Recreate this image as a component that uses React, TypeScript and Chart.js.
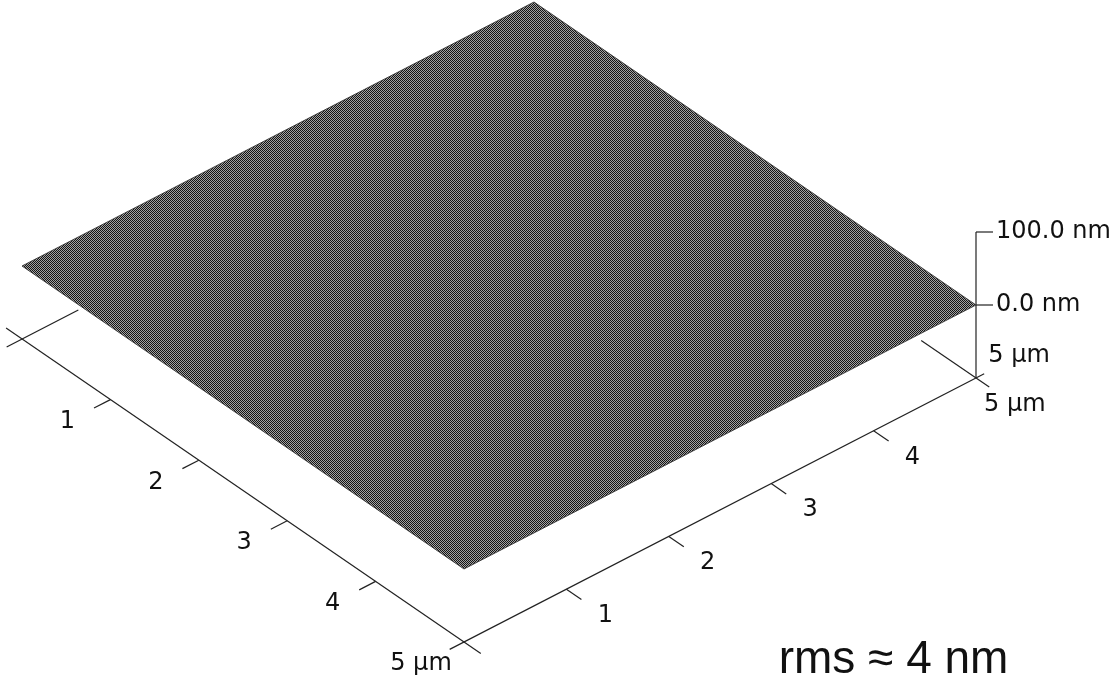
import React, { useEffect, useRef } from 'react';
import { Chart, registerables } from 'chart.js';

Chart.register(...registerables);

// ---------- data ----------
const scanSizeUm = 5;
const leftAxisTicks = [1, 2, 3, 4, 5];
const leftAxisLabels = ['1', '2', '3', '4', '5 µm'];
const rightAxisTicks = [1, 2, 3, 4, 5];
const rightAxisLabels = ['1', '2', '3', '4', '5 µm'];
const backAxisLabel = '5 µm';
const zTicks = [0, 100];
const zTickLabels = ['0.0 nm', '100.0 nm'];
const zFloorNm = -100;
const zTopNm = 100;
// surface heights (nm) sampled along the four edges, every 1 µm
const edgeSamples = [0, 1, 2, 3, 4, 5];
const frontLeftEdgeNm = [0, 0, 0, 0, 0, 0];
const frontRightEdgeNm = [0, 0, 0, 0, 0, 0];
const backRightEdgeNm = [0, 0, 0, 0, 0, 0];
const backLeftEdgeNm = [0, 0, 0, 0, 0, 0];
const rmsLabel = 'rms ≈ 4 nm';

// ---------- view (oblique projection) ----------
const W = 1110;
const H = 681;
const ORIGIN = { x: 22, y: 339 };
const U_VEC = { x: 88.4, y: 60.6 };
const V_VEC = { x: 102.4, y: -52.8 };
const PX_PER_NM = 0.73;

function project(u: number, v: number, z: number) {
  return {
    x: ORIGIN.x + u * U_VEC.x + v * V_VEC.x,
    y: ORIGIN.y + u * U_VEC.y + v * V_VEC.y - (z - zFloorNm) * PX_PER_NM,
  };
}

const LINE = '#222222';
const SMALL_FONT = '24px "DejaVu Sans", sans-serif';
const BIG_FONT = '46px "Liberation Sans", Arial, sans-serif';

function seg(a: { x: number; y: number }, b: { x: number; y: number }, width = 1.2) {
  return {
    type: 'scatter' as const,
    data: [a, b],
    showLine: true,
    borderColor: LINE,
    borderWidth: width,
    pointRadius: 0,
    fill: false,
  };
}

export default function App() {
  const ref = useRef<HTMLCanvasElement | null>(null);

  useEffect(() => {
    document.body.style.margin = '0';
    document.body.style.background = '#ffffff';
    const canvas = ref.current;
    if (!canvas) return;

    // halftone-like checker pattern for the surface
    const pc = document.createElement('canvas');
    pc.width = 2;
    pc.height = 2;
    const pctx = pc.getContext('2d')!;
    pctx.fillStyle = '#a2a2a2';
    pctx.fillRect(0, 0, 2, 2);
    pctx.fillStyle = '#141414';
    pctx.fillRect(0, 0, 1, 1);
    pctx.fillRect(1, 1, 1, 1);
    const pattern = canvas.getContext('2d')!.createPattern(pc, 'repeat');

    // surface outline
    const surface: { x: number; y: number }[] = [];
    edgeSamples.forEach((s, i) => surface.push(project(s, 0, frontLeftEdgeNm[i])));
    edgeSamples.forEach((s, i) => surface.push(project(scanSizeUm, s, frontRightEdgeNm[i])));
    edgeSamples.forEach((s, i) =>
      surface.push(project(scanSizeUm - s, scanSizeUm, backRightEdgeNm[i]))
    );
    edgeSamples.forEach((s, i) => surface.push(project(0, scanSizeUm - s, backLeftEdgeNm[i])));

    const datasets: any[] = [
      {
        type: 'scatter',
        data: surface,
        showLine: true,
        borderColor: 'rgba(50,50,50,0.85)',
        borderWidth: 1,
        backgroundColor: pattern,
        fill: 'shape',
        pointRadius: 0,
        tension: 0,
      },
    ];

    // base axes
    datasets.push(seg(project(-0.18, 0, zFloorNm), project(scanSizeUm + 0.19, 0, zFloorNm)));
    datasets.push(seg(project(scanSizeUm, -0.14, zFloorNm), project(scanSizeUm, scanSizeUm + 0.08, zFloorNm)));
    // corner stubs
    datasets.push(seg(project(0, -0.15, zFloorNm), project(0, 0.55, zFloorNm)));
    datasets.push(seg(project(scanSizeUm - 0.62, scanSizeUm, zFloorNm), project(scanSizeUm + 0.15, scanSizeUm, zFloorNm)));
    // ticks
    leftAxisTicks.slice(0, 4).forEach((t) =>
      datasets.push(seg(project(t, 0, zFloorNm), project(t, -0.16, zFloorNm)))
    );
    rightAxisTicks.slice(0, 4).forEach((t) =>
      datasets.push(seg(project(scanSizeUm, t, zFloorNm), project(scanSizeUm + 0.17, t, zFloorNm)))
    );
    // z axis
    const zBase = project(scanSizeUm, scanSizeUm, zFloorNm);
    const zTopP = project(scanSizeUm, scanSizeUm, zTopNm);
    datasets.push(seg(zBase, zTopP));
    zTicks.forEach((z) => {
      const p = project(scanSizeUm, scanSizeUm, z);
      datasets.push(seg(p, { x: p.x + 17, y: p.y }));
    });

    const labelPlugin = {
      id: 'afmLabels',
      afterDatasetsDraw(chart: any) {
        const ctx = chart.ctx as CanvasRenderingContext2D;
        const xs = chart.scales.x;
        const ys = chart.scales.y;
        const px = (p: { x: number; y: number }) => ({
          x: xs.getPixelForValue(p.x),
          y: ys.getPixelForValue(p.y),
        });
        ctx.save();
        ctx.fillStyle = '#111';
        ctx.font = SMALL_FONT;
        ctx.textAlign = 'center';
        ctx.textBaseline = 'middle';
        leftAxisTicks.forEach((t, i) => {
          const p = px(project(t, -0.42, zFloorNm));
          ctx.fillText(leftAxisLabels[i], p.x, p.y);
        });
        rightAxisTicks.forEach((t, i) => {
          const p = px(project(scanSizeUm + 0.44, t, zFloorNm));
          ctx.fillText(rightAxisLabels[i], p.x, p.y);
        });
        const bp = px(project(scanSizeUm, scanSizeUm + 0.42, zFloorNm));
        ctx.fillText(backAxisLabel, bp.x, bp.y);
        ctx.textAlign = 'left';
        zTicks.forEach((z, i) => {
          const p = px(project(scanSizeUm, scanSizeUm, z));
          ctx.fillText(zTickLabels[i], p.x + 20, p.y);
        });
        ctx.font = BIG_FONT;
        ctx.textAlign = 'center';
        ctx.textBaseline = 'alphabetic';
        const ca = chart.chartArea;
        ctx.fillText(rmsLabel, ca.left + (ca.right - ca.left) * 0.805, ca.top + (ca.bottom - ca.top) * 0.988);
        ctx.restore();
      },
    };

    const chart = new Chart(canvas, {
      type: 'scatter',
      data: { datasets },
      options: {
        animation: false,
        responsive: false,
        devicePixelRatio: 1,
        layout: { padding: 0 },
        plugins: { legend: { display: false }, tooltip: { enabled: false }, title: { display: false } },
        scales: {
          x: { type: 'linear', min: 0, max: W, display: false },
          y: { type: 'linear', min: 0, max: H, reverse: true, display: false },
        },
      },
      plugins: [labelPlugin],
    });
    return () => chart.destroy();
  }, []);

  return (
    <div style={{ width: W, height: H, background: '#fff' }}>
      <canvas ref={ref} width={W} height={H} style={{ display: 'block' }} />
    </div>
  );
}
